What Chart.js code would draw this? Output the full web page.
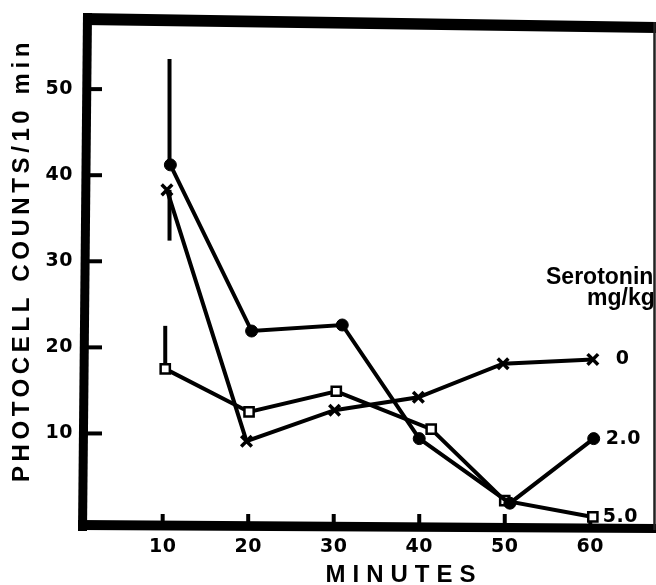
<!DOCTYPE html>
<html><head><meta charset="utf-8">
<style>html,body{margin:0;padding:0;background:#fff;overflow:hidden}</style>
<script src="https://cdn.jsdelivr.net/npm/chart.js@4.4.0/dist/chart.umd.min.js"></script>
</head><body>
<canvas id="c" width="656" height="585"></canvas>
<script>
// ---- data ----
const xTicks = [10, 20, 30, 40, 50, 60];
const yTicks = [10, 20, 30, 40, 50];
const doseLabels = ['0', '2.0', '5.0'];
const minutes0 = [10.5, 19.8, 30.1, 39.9, 49.8, 60.3];
const counts0  = [38.3, 9.1, 12.7, 14.2, 18.1, 18.6];
const minutes2 = [10.9, 20.4, 31.0, 40.0, 50.6, 60.4];
const counts2  = [41.2, 21.9, 22.6, 9.4, 1.9, 9.4];
const minutes5 = [10.3, 20.1, 30.3, 41.4, 50.0, 60.3];
const counts5  = [17.5, 12.5, 14.9, 10.5, 2.2, 0.3];
const errX    = [10.8, 10.8, 10.3];
const errFrom = [38.3, 41.2, 17.5];
const errTo   = [32.4, 53.5, 22.5];
const yTitle = 'PHOTOCELL COUNTS/10 min';
const xTitle = 'MINUTES';
const legendTitle1 = 'Serotonin';
const legendTitle2 = 'mg/kg';

const pts = (xs, ys) => xs.map((x, i) => ({x, y: ys[i]}));
const tickFont = {family: '"DejaVu Sans"', size: 19, weight: 'bold'};

const framePlugin = {
  id: 'frame',
  beforeDraw(chart) { chart.ctx.letterSpacing = '0.5px'; },
  beforeDatasetsDraw(chart) {
    const ctx = chart.ctx, xs = chart.scales.x, ys = chart.scales.y;
    ctx.save();
    ctx.letterSpacing = '0px';
    ctx.fillStyle = '#000';
    // left axis
    ctx.beginPath(); ctx.moveTo(83, 13); ctx.lineTo(92, 13); ctx.lineTo(87, 531); ctx.lineTo(78, 531); ctx.closePath(); ctx.fill();
    // top border
    ctx.beginPath(); ctx.moveTo(83, 13); ctx.lineTo(656, 22); ctx.lineTo(656, 33); ctx.lineTo(83, 25); ctx.closePath(); ctx.fill();
    // bottom axis
    ctx.beginPath(); ctx.moveTo(78, 520); ctx.lineTo(656, 524); ctx.lineTo(656, 533); ctx.lineTo(78, 530); ctx.closePath(); ctx.fill();
    // right thin border
    ctx.fillStyle = '#222';
    ctx.fillRect(653.5, 22, 2, 508);
    // inward tick marks
    ctx.strokeStyle = '#000'; ctx.lineWidth = 4; ctx.lineCap = 'butt';
    yTicks.forEach(v => {
      const y = ys.getPixelForValue(v);
      ctx.beginPath(); ctx.moveTo(86, y); ctx.lineTo(102, y); ctx.stroke();
    });
    xTicks.forEach(v => {
      const x = xs.getPixelForValue(v);
      ctx.beginPath(); ctx.moveTo(x, 524); ctx.lineTo(x, 514); ctx.stroke();
    });
    // error bars
    ctx.lineWidth = 4;
    errX.forEach((ex, i) => {
      const x = xs.getPixelForValue(ex);
      ctx.beginPath(); ctx.moveTo(x, ys.getPixelForValue(errFrom[i])); ctx.lineTo(x, ys.getPixelForValue(errTo[i])); ctx.stroke();
    });
    ctx.restore();
  },
  afterDraw(chart) {
    const ctx = chart.ctx, xs = chart.scales.x, ys = chart.scales.y;
    ctx.save();
    ctx.fillStyle = '#000';
    // y title
    ctx.save();
    ctx.translate(22, 262);
    ctx.rotate(-Math.PI / 2);
    ctx.font = 'bold 24px "Liberation Sans"';
    ctx.letterSpacing = '4.6px';
    ctx.textAlign = 'center'; ctx.textBaseline = 'middle';
    ctx.fillText(yTitle, 2, 0);
    ctx.restore();
    // x title
    ctx.font = 'bold 24px "Liberation Sans"';
    ctx.letterSpacing = '7px';
    ctx.textAlign = 'center'; ctx.textBaseline = 'middle';
    ctx.fillText(xTitle, 404, 575);
    // legend heading
    ctx.letterSpacing = '0px';
    ctx.textAlign = 'left'; ctx.textBaseline = 'alphabetic';
    ctx.font = 'bold 23px "Liberation Sans"';
    ctx.fillText(legendTitle1, 546, 284);
    ctx.fillText(legendTitle2, 587, 305);
    // dose labels next to last points
    ctx.font = 'bold 19px "DejaVu Sans"';
    ctx.letterSpacing = '0.5px';
    ctx.textBaseline = 'middle';
    const lastPts = [[minutes0, counts0, 23], [minutes2, counts2, 12], [minutes5, counts5, 10]];
    lastPts.forEach((p, i) => {
      const n = p[0].length - 1;
      ctx.fillText(doseLabels[i], xs.getPixelForValue(p[0][n]) + p[2], ys.getPixelForValue(p[1][n]));
    });
    // right border over the clipped heading
    ctx.fillStyle = '#222';
    ctx.fillRect(653.5, 22, 2, 508);
    ctx.restore();
  }
};

const common = {borderColor: '#000', borderWidth: 4, tension: 0, fill: false, clip: false,
  pointBorderColor: '#000'};

new Chart(document.getElementById('c'), {
  type: 'line',
  data: {
    datasets: [
      Object.assign({label: doseLabels[0], data: pts(minutes0, counts0), pointStyle: 'crossRot',
        pointRadius: 7.5, pointBorderWidth: 3.5, pointBackgroundColor: '#000'}, common),
      Object.assign({label: doseLabels[1], data: pts(minutes2, counts2), pointStyle: 'circle',
        pointRadius: 6, pointBorderWidth: 1, pointBackgroundColor: '#000'}, common),
      Object.assign({label: doseLabels[2], data: pts(minutes5, counts5), pointStyle: 'rect',
        pointRadius: 6.5, pointBorderWidth: 2.5, pointBackgroundColor: '#fff'}, common)
    ]
  },
  options: {
    responsive: false,
    animation: false,
    events: [],
    layout: {padding: {left: 0, right: 1, top: 20, bottom: 0}},
    plugins: {legend: {display: false}, tooltip: {enabled: false}},
    scales: {
      x: {
        type: 'linear', min: 0.8, max: 66.4,
        afterBuildTicks: s => { s.ticks = xTicks.map(v => ({value: v})); },
        afterFit: s => { s.height = 59; },
        grid: {display: false, drawTicks: false, tickLength: 0},
        border: {display: false},
        ticks: {font: tickFont, color: '#000', padding: 10, maxRotation: 0, autoSkip: false}
      },
      y: {
        type: 'linear', min: -0.75, max: 57.75,
        afterBuildTicks: s => { s.ticks = yTicks.map(v => ({value: v})); },
        afterFit: s => { s.width = 84; },
        grid: {display: false, drawTicks: false, tickLength: 0},
        border: {display: false},
        ticks: {font: tickFont, color: '#000', padding: 11, autoSkip: false}
      }
    }
  },
  plugins: [framePlugin]
});
</script>
</body></html>
